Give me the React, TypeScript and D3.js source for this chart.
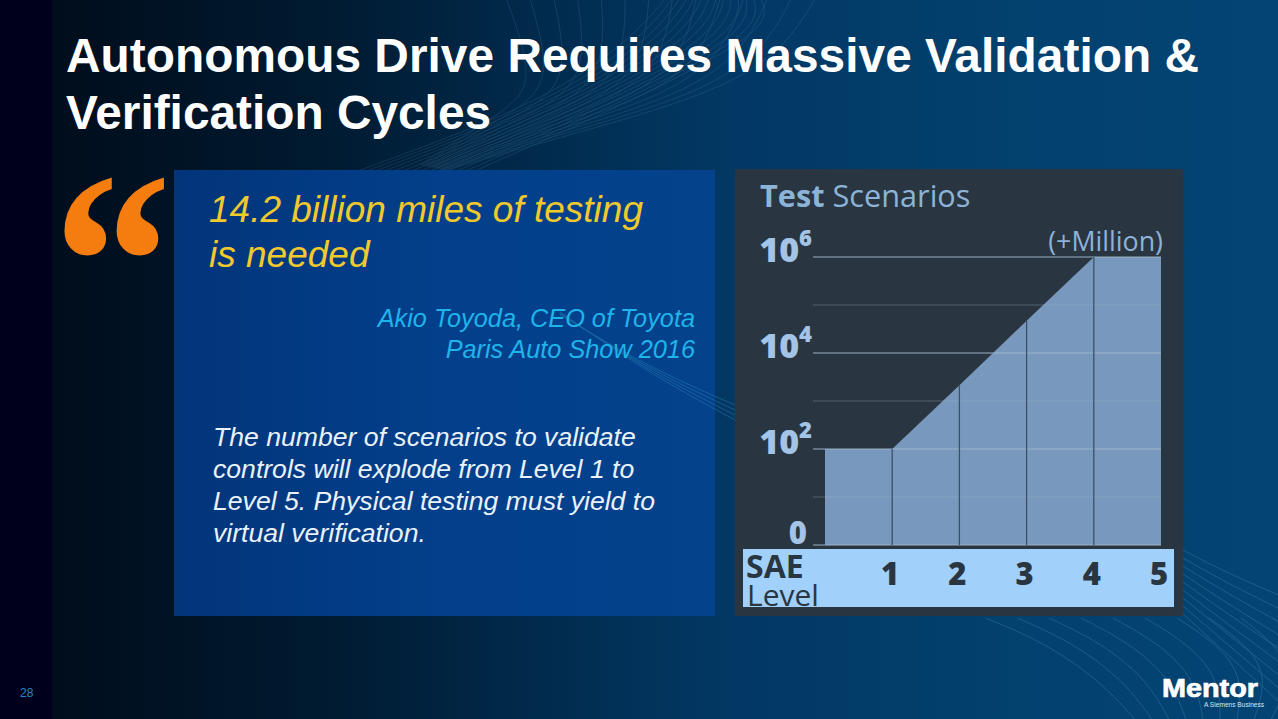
import * as d3 from 'd3'

const titleLines = ['Autonomous Drive Requires Massive Validation &', 'Verification Cycles']
const quoteLines = ['14.2 billion miles of testing', 'is needed']
const sourceLines = ['Akio Toyoda, CEO of Toyota', 'Paris Auto Show 2016']
const bodyLines = [
  'The number of scenarios to validate',
  'controls will explode from Level 1 to',
  'Level 5. Physical testing must yield to',
  'virtual verification.',
]

// SAE level vs. exponent of the number of test scenarios
const levels = [0, 1, 2, 3, 4, 5]
const exponents = [2, 2, 3.33, 4.67, 6, 6]
const gridExponents = [0, 1, 2, 3, 4, 5, 6]
const labelledExponents = ['0', '2', '4', '6']
const levelTicks = [1, 2, 3, 4, 5]

const W = 1278
const H = 719

const x = d3.scaleLinear().domain([0, 5]).range([825, 1161])
const y = d3.scaleLinear().domain([0, 6]).range([545, 257])

const area = d3.area<number>()
  .x((_, i) => x(levels[i]))
  .y0(y(0))
  .y1(d => y(d))

const wave = d3.line<number[]>().curve(d3.curveBasis)

// background swooshes, only decoration
const topWaves = d3.range(14).map(i => [
  [505 + i * 24, -5],
  [525 + i * 20, 50],
  [530 + i * 14, 95],
  [480 + i * 6, 125 + i],
  [420 + i * 2, 165 + i * 0.4],
])
const crossWaves = d3.range(14).map(i => [
  [360 + i * 9, 170],
  [470 + i * 12, 130 - i * 2],
  [570 + i * 13, 85 - i * 3],
  [640 + i * 10, 30 - i],
  [668 + i * 7, -5],
])
const lowerWaves = d3.range(15).map(i => [
  [985 + i * 32, 618],
  [1040 + i * 30, 640 + i],
  [1100 + i * 24, 680],
  [1140 + i * 16, 725],
])
const rightWaves = d3.range(9).map(i => [
  [1183, 550 + i * 8],
  [1225, 572 + i * 10],
  [1290, 600 + i * 14],
])
const beamWaves = d3.range(4).map(i => [
  [560, 315 - i],
  [650, 368 + i * 2],
  [735, 405 + i * 5],
])

const sans = '"Liberation Sans", Arial, sans-serif'
const chartFont = '"Open Sans", "Noto Sans", sans-serif'

export default function App() {
  return (
    <svg
      width={W}
      height={H}
      viewBox={`0 0 ${W} ${H}`}
      style={{ position: 'fixed', left: 0, top: 0, display: 'block' }}
    >
      <defs>
        <linearGradient id="bg" x1="0" y1="0" x2="1" y2="0">
          <stop offset="0.04" stopColor="#000d1c" />
          <stop offset="0.25" stopColor="#001a30" />
          <stop offset="0.55" stopColor="#023762" />
          <stop offset="0.8" stopColor="#03416f" />
          <stop offset="1" stopColor="#034474" />
        </linearGradient>
        <linearGradient id="panel" x1="0" y1="0" x2="1" y2="0">
          <stop offset="0" stopColor="#02357a" />
          <stop offset="0.5" stopColor="#033f8b" />
          <stop offset="1" stopColor="#04428c" />
        </linearGradient>
      </defs>

      <rect width={W} height={H} fill="url(#bg)" />
      <rect width={52} height={H} fill="#00001c" />

      <g fill="none" stroke="#6fb0d8" strokeWidth={0.7} opacity={0.22}>
        {[...topWaves, ...crossWaves].map((pts, i) => (
          <path key={i} d={wave(pts as [number, number][]) ?? ''} />
        ))}
      </g>
      <g fill="none" stroke="#6fb0d8" strokeWidth={0.8} opacity={0.3}>
        {[...lowerWaves, ...rightWaves].map((pts, i) => (
          <path key={i} d={wave(pts as [number, number][]) ?? ''} />
        ))}
      </g>

      <g fontFamily={sans} fontWeight={700} fontSize={47.8} fill="#ffffff">
        <text x={66} y={71.5} textLength={1133} lengthAdjust="spacing">{titleLines[0]}</text>
        <text x={66} y={128.5}>{titleLines[1]}</text>
      </g>

      <text
        transform="translate(53,349) scale(0.92,1)"
        fontFamily='"Liberation Serif", serif'
        fontWeight={700}
        fontSize={258}
        fill="#f57d0f"
      >
        “
      </text>

      <rect x={174} y={170} width={541} height={446} fill="url(#panel)" />

      <g fill="none" stroke="#3fa6cf" strokeWidth={0.9} opacity={0.35}>
        {beamWaves.map((pts, i) => (
          <path key={i} d={wave(pts as [number, number][]) ?? ''} />
        ))}
      </g>

      <g fontFamily={sans} fontStyle="italic" fontSize={37} fill="#f1c92c">
        {quoteLines.map((line, i) => (
          <text key={line} x={209} y={222 + i * 45}>{line}</text>
        ))}
      </g>

      <g fontFamily={sans} fontStyle="italic" fontSize={25.3} fill="#1fb4ea" textAnchor="end">
        {sourceLines.map((line, i) => (
          <text key={line} x={695} y={327 + i * 31}>{line}</text>
        ))}
      </g>

      <g fontFamily={sans} fontStyle="italic" fontSize={26.6} fill="#e9f2fa">
        {bodyLines.map((line, i) => (
          <text key={line} x={213} y={446 + i * 32}>{line}</text>
        ))}
      </g>

      {/* chart panel */}
      <rect x={735} y={169} width={448} height={447} fill="#2a3542" />

      <text x={760} y={207} fontFamily={chartFont} fontSize={30.7} fill="#8cb3d8">
        <tspan fontWeight={700}>Test</tspan> Scenarios
      </text>

      <path d={area(exponents) ?? ''} fill="#7899bd" />

      <g stroke="#9db4ca">
        {gridExponents.map(e => (
          <line
            key={e}
            x1={813}
            x2={x(5)}
            y1={y(e)}
            y2={y(e)}
            strokeWidth={e % 2 ? 1 : 1.3}
            opacity={e % 2 ? 0.35 : 0.65}
          />
        ))}
      </g>

      <g stroke="#3d5066" strokeWidth={1.3}>
        {levelTicks.slice(0, 4).map(l => (
          <line key={l} x1={x(l)} x2={x(l)} y1={y(exponents[l])} y2={y(0)} />
        ))}
      </g>

      <text x={1163} y={251} textAnchor="end" fontFamily={chartFont} fontSize={26.8} fill="#8cb3d8">
        (+Million)
      </text>

      <g fontFamily={chartFont} fontWeight={800} fill="#a3c4e6">
        {labelledExponents.map(e =>
          e === '0' ? (
            <text key={e} x={807} y={y(0) - 1} fontSize={31} textAnchor="end">0</text>
          ) : (
            <text key={e} x={812} y={y(+e) + 5} fontSize={34} textAnchor="end">
              10
              <tspan dy={-16} fontSize={22}>{e}</tspan>
            </text>
          ),
        )}
      </g>

      {/* SAE level strip */}
      <rect x={743} y={549} width={431} height={58} fill="#a1d0fb" />
      <g fontFamily={chartFont} fill="#2a3542">
        <text x={746} y={578} fontSize={32} fontWeight={700}>SAE</text>
        <text x={747} y={606} fontSize={30}>Level</text>
        {levelTicks.map(l => (
          <text key={l} x={x(l) - 2} y={585} fontSize={31} fontWeight={800} textAnchor="middle">
            {l}
          </text>
        ))}
      </g>

      <text x={20} y={697} fontFamily={sans} fontSize={12} fill="#1f86c4">28</text>

      <text
        x={1162}
        y={697}
        fontFamily={sans}
        fontWeight={700}
        fontSize={25}
        fill="#ffffff"
        stroke="#ffffff"
        strokeWidth={0.7}
        textLength={96}
        lengthAdjust="spacingAndGlyphs"
      >
        Mentor
      </text>
      <text x={1204} y={707} fontFamily={sans} fontSize={6.6} fill="#d8e6f0">A Siemens Business</text>
    </svg>
  )
}
